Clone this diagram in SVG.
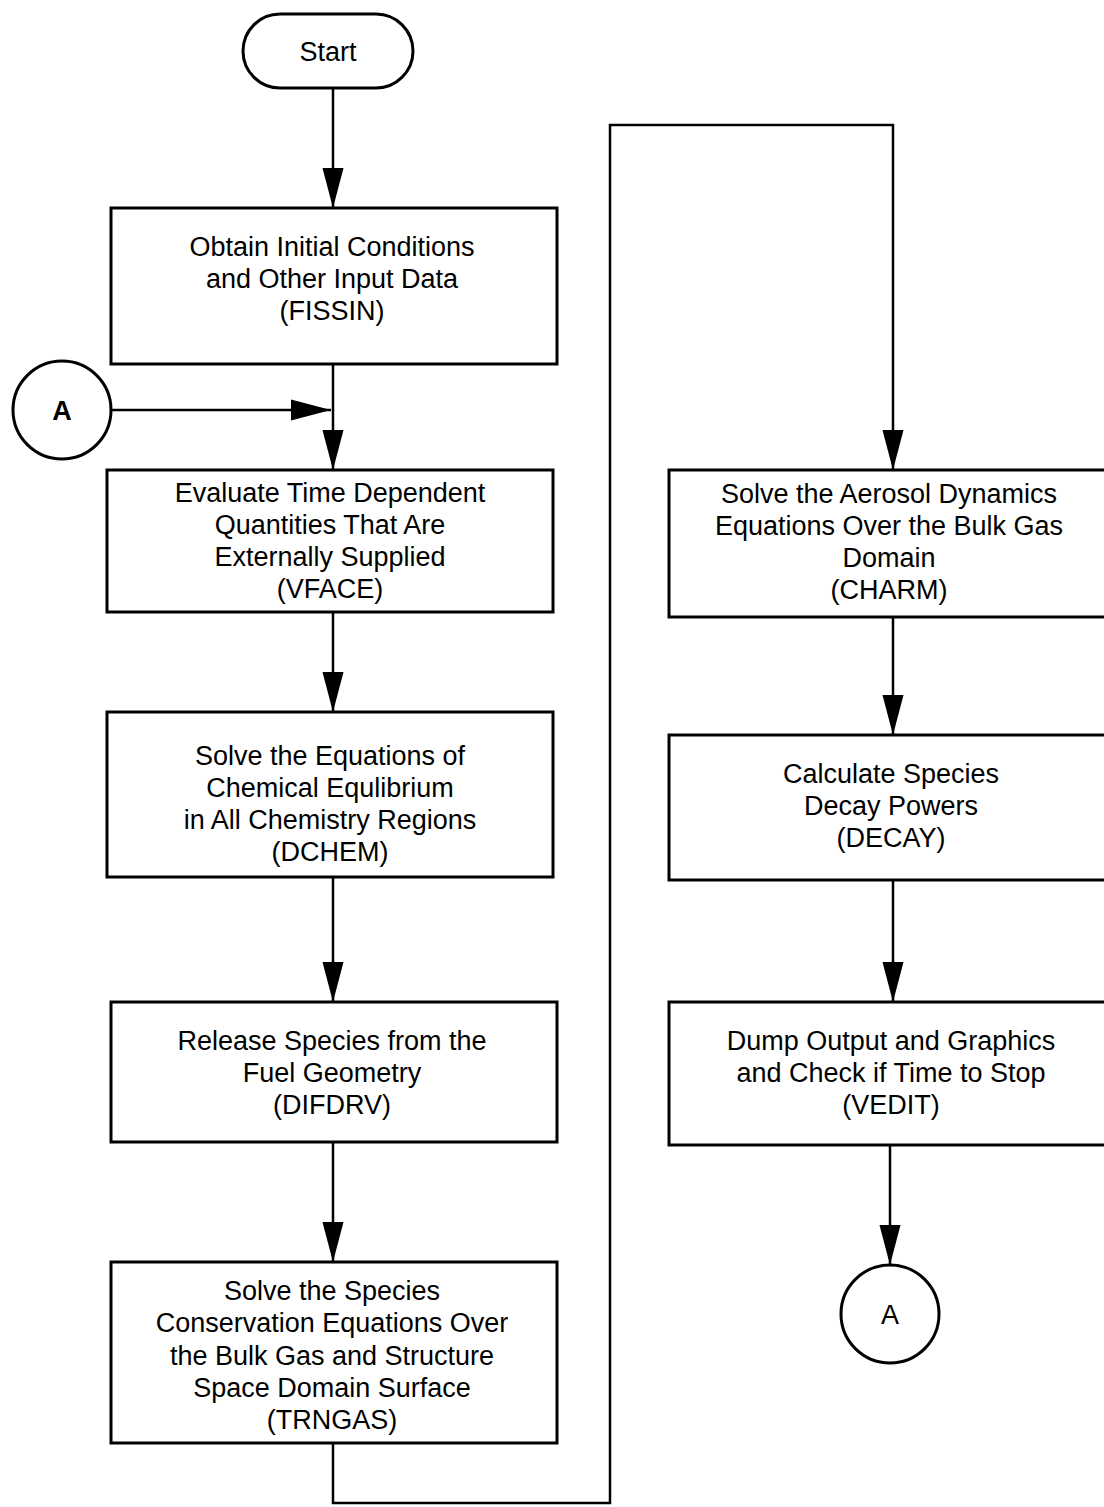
<svg xmlns="http://www.w3.org/2000/svg" width="1104" height="1507" viewBox="0 0 1104 1507">
<style>
.box{fill:#fff;stroke:#000;stroke-width:3}
.ln{fill:none;stroke:#000;stroke-width:2.5}
text{font-family:"Liberation Sans",Arial,sans-serif;font-size:27px;fill:#000;text-anchor:middle}
</style>
<defs>
<marker id="ah" markerUnits="userSpaceOnUse" markerWidth="40" markerHeight="24" viewBox="0 0 38 20" refX="38" refY="10" orient="auto">
<path d="M0,0 L38,10 L0,20 Z" fill="#000"/>
</marker>
</defs>
<rect width="1104" height="1507" fill="#fff"/>
<g id="connectors">
<line class="ln" x1="333" y1="88" x2="333" y2="208" marker-end="url(#ah)"/>
<line class="ln" x1="333" y1="364" x2="333" y2="470" marker-end="url(#ah)"/>
<line class="ln" x1="111" y1="410" x2="331" y2="410" marker-end="url(#ah)"/>
<line class="ln" x1="333" y1="612" x2="333" y2="712" marker-end="url(#ah)"/>
<line class="ln" x1="333" y1="877" x2="333" y2="1002" marker-end="url(#ah)"/>
<line class="ln" x1="333" y1="1142" x2="333" y2="1262" marker-end="url(#ah)"/>
<polyline class="ln" points="333,1443 333,1503 610,1503 610,125 893,125 893,470" marker-end="url(#ah)"/>
<line class="ln" x1="893" y1="617" x2="893" y2="735" marker-end="url(#ah)"/>
<line class="ln" x1="893" y1="880" x2="893" y2="1002" marker-end="url(#ah)"/>
<line class="ln" x1="890" y1="1145" x2="890" y2="1265" marker-end="url(#ah)"/>
</g>
<g id="start">
<rect class="box" x="243" y="14" width="170" height="74" rx="37" ry="37"/>
<text x="328" y="61">Start</text>
</g>
<g id="fissin">
<rect class="box" x="111" y="208" width="446" height="156"/>
<text x="332" y="256">Obtain Initial Conditions</text>
<text x="332" y="288">and Other Input Data</text>
<text x="332" y="320">(FISSIN)</text>
</g>
<g id="connA1">
<circle class="box" cx="62" cy="410" r="49"/>
<text x="62" y="420" font-weight="bold" font-size="26">A</text>
</g>
<g id="vface">
<rect class="box" x="107" y="470" width="446" height="142"/>
<text x="330" y="502">Evaluate Time Dependent</text>
<text x="330" y="534">Quantities That Are</text>
<text x="330" y="566">Externally Supplied</text>
<text x="330" y="598">(VFACE)</text>
</g>
<g id="dchem">
<rect class="box" x="107" y="712" width="446" height="165"/>
<text x="330" y="765">Solve the Equations of</text>
<text x="330" y="797">Chemical Equlibrium</text>
<text x="330" y="829">in All Chemistry Regions</text>
<text x="330" y="861">(DCHEM)</text>
</g>
<g id="difdrv">
<rect class="box" x="111" y="1002" width="446" height="140"/>
<text x="332" y="1050">Release Species from the</text>
<text x="332" y="1082">Fuel Geometry</text>
<text x="332" y="1114">(DIFDRV)</text>
</g>
<g id="trngas">
<rect class="box" x="111" y="1262" width="446" height="181"/>
<text x="332" y="1300">Solve the Species</text>
<text x="332" y="1332">Conservation Equations Over</text>
<text x="332" y="1365">the Bulk Gas and Structure</text>
<text x="332" y="1397">Space Domain Surface</text>
<text x="332" y="1429">(TRNGAS)</text>
</g>
<g id="charm">
<rect class="box" x="669" y="470" width="440" height="147"/>
<text x="889" y="503">Solve the Aerosol Dynamics</text>
<text x="889" y="535">Equations Over the Bulk Gas</text>
<text x="889" y="567">Domain</text>
<text x="889" y="599">(CHARM)</text>
</g>
<g id="decay">
<rect class="box" x="669" y="735" width="440" height="145"/>
<text x="891" y="783">Calculate Species</text>
<text x="891" y="815">Decay Powers</text>
<text x="891" y="847">(DECAY)</text>
</g>
<g id="vedit">
<rect class="box" x="669" y="1002" width="440" height="143"/>
<text x="891" y="1050">Dump Output and Graphics</text>
<text x="891" y="1082">and Check if Time to Stop</text>
<text x="891" y="1114">(VEDIT)</text>
</g>
<g id="connA2">
<circle class="box" cx="890" cy="1314" r="49"/>
<text x="890" y="1324">A</text>
</g>
</svg>
